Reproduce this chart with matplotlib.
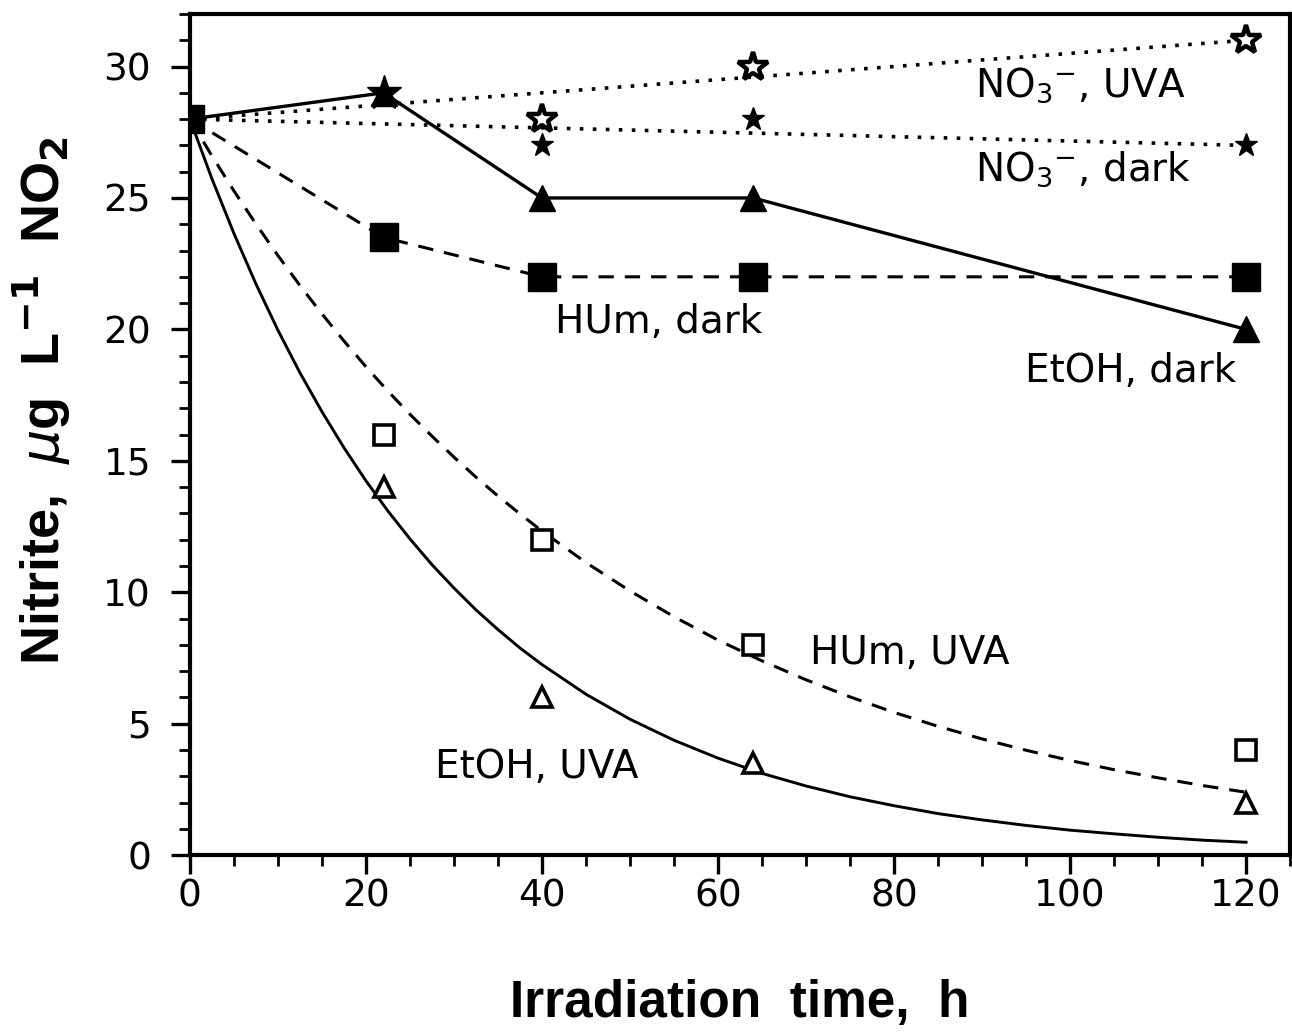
import matplotlib
matplotlib.use("Agg")
import matplotlib.pyplot as plt
from matplotlib.ticker import MultipleLocator

# ---------------- data ----------------
t_meas = [0, 22, 40, 64, 120]

etoh_dark = [28, 29, 25, 25, 20]
hum_dark = [28, 23.5, 22, 22, 22]

t_uva = [22, 40, 64, 120]
hum_uva = [16, 12, 8, 4]
etoh_uva = [14, 6, 3.5, 2]

t_no3 = [22, 40, 64, 120]
no3_uva = [29, 28, 30, 31]
no3_dark = [29, 27, 28, 27]
t_no3_fit = [0, 120]
no3_uva_fit = [28, 31]
no3_dark_fit = [28, 27]

t_curve = [0, 2.5, 5, 7.5, 10, 12.5, 15, 17.5, 20, 22.5, 25, 27.5, 30, 32.5,
           35, 37.5, 40, 45, 50, 55, 60, 65, 70, 75, 80,
           85, 90, 95, 100, 105, 110, 115, 120]
etoh_uva_curve = [28, 25.73, 23.65, 21.73, 19.97, 18.35, 16.87, 15.50, 14.24,
                  13.09, 12.03, 11.05, 10.16, 9.33, 8.58, 7.88, 7.25,
                  6.12, 5.17, 4.37, 3.69, 3.11, 2.63, 2.22, 1.88, 1.58, 1.34,
                  1.13, 0.95, 0.81, 0.68, 0.57, 0.49]
hum_uva_curve = [28, 26.60, 25.27, 24.01, 22.81, 21.67, 20.59, 19.56, 18.58,
                 17.65, 16.77, 15.94, 15.14, 14.38, 13.66, 12.98, 12.33,
                 11.13, 10.05, 9.07, 8.18, 7.39, 6.67, 6.02, 5.43, 4.90, 4.42,
                 3.99, 3.60, 3.25, 2.94, 2.65, 2.39]

x_ticks = [0, 20, 40, 60, 80, 100, 120]
y_ticks = [0, 5, 10, 15, 20, 25, 30]

labels = ["NO$_3$$^{-}$, UVA", "NO$_3$$^{-}$, dark", "HUm, dark",
          "EtOH, dark", "HUm, UVA", "EtOH, UVA"]
label_pos = [(89.2, 29.3), (89.2, 26.1), (41.5, 20.3), (94.9, 18.4),
             (70.5, 7.7), (27.8, 3.35)]

# ---------------- figure ----------------
fig = plt.figure(figsize=(12.92, 10.34), dpi=100)
ax = fig.add_axes([0.147, 0.173, 0.8515, 0.8135])

k = "black"
dot = (0, (1.0, 2.6))
dash = (0, (5.0, 3.6))

# fitted / connecting lines
ax.plot(t_no3_fit, no3_uva_fit, color=k, lw=2.6, linestyle=dot, dash_capstyle="butt", zorder=2)
ax.plot(t_no3_fit, no3_dark_fit, color=k, lw=2.6, linestyle=dot, dash_capstyle="butt", zorder=2)
ax.plot(t_curve, etoh_uva_curve, color=k, lw=2.1, zorder=2)
ax.plot(t_curve, hum_uva_curve, color=k, lw=2.2, linestyle=dash, zorder=2)
ax.plot(t_meas, etoh_dark, color=k, lw=2.4, zorder=2)
ax.plot(t_meas, hum_dark, color=k, lw=2.2, linestyle=dash, zorder=2)

# markers
ax.plot(t_meas, etoh_dark, linestyle="none", marker="^", ms=19, mfc=k, mec=k, zorder=3)
ax.plot(t_meas, hum_dark, linestyle="none", marker="s", ms=20, mfc=k, mec=k, zorder=4)
ax.plot(t_uva, hum_uva, linestyle="none", marker="s", ms=15, mfc="white", mec=k, mew=2.6, zorder=3)
ax.plot(t_uva, etoh_uva, linestyle="none", marker="^", ms=15, mfc="white", mec=k, mew=2.6, zorder=3)
ax.plot(t_no3[1:], no3_dark[1:], linestyle="none", marker="*", ms=17, mfc=k, mec=k, zorder=3)
ax.plot(t_no3[1:], no3_uva[1:], linestyle="none", marker="*", ms=22, mfc="white", mec=k, mew=3.2, zorder=3)
ax.plot(t_no3[:1], no3_dark[:1], linestyle="none", marker="*", ms=26, mfc=k, mec=k, zorder=3)

# annotations
for txt, (x, y) in zip(labels, label_pos):
    ax.text(x, y, txt, fontsize=28, family="DejaVu Sans", ha="left", va="center")

# axes styling
ax.set_xlim(0, 125)
ax.set_ylim(0, 32)
ax.set_xticks(x_ticks)
ax.set_yticks(y_ticks)
ax.xaxis.set_minor_locator(MultipleLocator(5))
ax.yaxis.set_minor_locator(MultipleLocator(1))
for s in ax.spines.values():
    s.set_linewidth(3.0)
ax.tick_params(which="major", direction="out", length=14, width=2.4,
               labelsize=27, top=False, right=False)
ax.tick_params(axis="x", which="major", pad=3)
ax.tick_params(axis="y", which="major", pad=14)
ax.tick_params(which="minor", direction="out", length=8, width=2.0,
               top=False, right=False)
for lab in ax.get_xticklabels() + ax.get_yticklabels():
    lab.set_family("DejaVu Sans")

ax.set_xlabel("Irradiation  time,  h", fontsize=37, fontweight="bold",
              family="Liberation Sans", labelpad=46)
ax.set_ylabel("Nitrite,  $\\mu$g  L$^{\\mathbf{-1}}$  NO$_{\\mathbf{2}}$", fontsize=39,
              fontweight="bold", family="Liberation Sans")
ax.yaxis.set_label_coords(-0.106, 0.54)
fig.savefig("out.png", dpi=100)
